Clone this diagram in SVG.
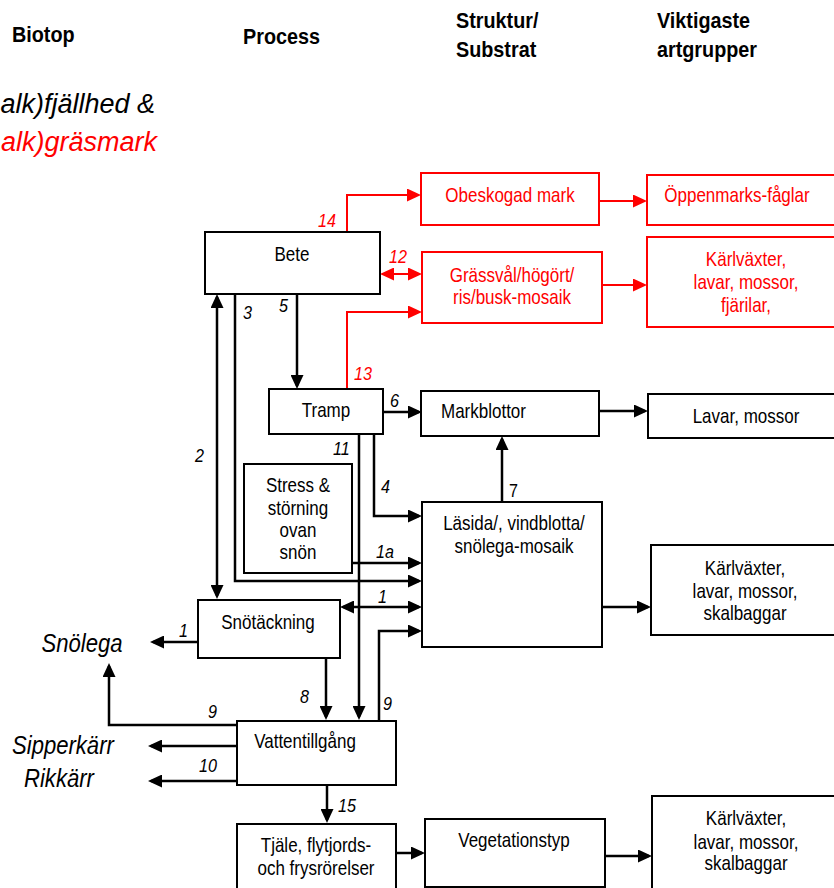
<svg xmlns="http://www.w3.org/2000/svg" width="834" height="888" viewBox="0 0 834 888">
<style>
text{font-family:"Liberation Sans",Arial,sans-serif;fill:#000}
.h{font-size:22px;font-weight:bold}
.big{font-size:27px;font-style:italic}
.side{font-size:26px;font-style:italic}
.t{font-size:20px}
.m{text-anchor:middle}
.n{font-size:19px;font-style:italic}
.u{font-size:19px}
.r{fill:#f00}
.box{fill:#fff;stroke:#000;stroke-width:2}
.rbox{fill:#fff;stroke:#f00;stroke-width:2}
.c{fill:none;stroke:#000;stroke-width:2.5;marker-end:url(#ah)}
.cr{fill:none;stroke:#f00;stroke-width:2;marker-end:url(#ahr)}
.d{marker-start:url(#ah)}
.dr{marker-start:url(#ahr)}
</style>
<defs>
<marker id="ah" viewBox="0 0 14 13" refX="11" refY="6.5" markerWidth="14" markerHeight="13" markerUnits="userSpaceOnUse" orient="auto-start-reverse"><path d="M0,0L14,6.5L0,13z" fill="#000"/></marker>
<marker id="ahr" viewBox="0 0 14 13" refX="11" refY="6.5" markerWidth="14" markerHeight="13" markerUnits="userSpaceOnUse" orient="auto-start-reverse"><path d="M0,0L14,6.5L0,13z" fill="#f00"/></marker>
</defs>
<rect width="834" height="888" fill="#fff"/>
<g id="headers">
<text class="h" transform="translate(12,42) scale(.9,1)">Biotop</text>
<text class="h" transform="translate(243,44) scale(.9,1)">Process</text>
<text class="h" transform="translate(456,28) scale(.9,1)">Struktur/</text>
<text class="h" transform="translate(456,57) scale(.9,1)">Substrat</text>
<text class="h" transform="translate(657,28) scale(.9,1)">Viktigaste</text>
<text class="h" transform="translate(657,57) scale(.9,1)">artgrupper</text>
<text class="big" x="155" y="113" text-anchor="end">alk)fjällhed &amp;</text>
<text class="big r" x="157" y="151" text-anchor="end">alk)gräsmark</text>
<text class="side m" transform="translate(82,652) scale(.85,1)">Snölega</text>
<text class="side" transform="translate(12,754) scale(.85,1)">Sipperkärr</text>
<text class="side" transform="translate(24,787) scale(.85,1)">Rikkärr</text>
</g>
<g id="connectors">
<path class="c" d="M297,294V386"/>
<path class="c d" d="M217,297V596"/>
<path class="c" d="M235,294V581H419"/>
<path class="c" d="M383,412H419"/>
<path class="c" d="M359,434V717"/>
<path class="c" d="M374,434V516H419"/>
<path class="c" d="M502,502V439"/>
<path class="c" d="M599,411H645"/>
<path class="c" d="M352,563H419"/>
<path class="c d" d="M343,607H419"/>
<path class="c" d="M379,721V631H419"/>
<path class="c" d="M602,607H648"/>
<path class="c" d="M198,642H153"/>
<path class="c" d="M326,658V717"/>
<path class="c" d="M237,725H109V666"/>
<path class="c" d="M237,746H151"/>
<path class="c" d="M237,781H151"/>
<path class="c" d="M327,785V820"/>
<path class="c" d="M396,853H422"/>
<path class="c" d="M605,856H649"/>
<path class="cr" d="M347,232V195H418"/>
<path class="cr dr" d="M383,274H419"/>
<path class="cr" d="M347,389V312H419"/>
<path class="cr" d="M599,201H644"/>
<path class="cr" d="M602,285H644"/>
<text class="n r" transform="translate(318,227) scale(.85,1)">14</text>
<text class="n r" transform="translate(389,263) scale(.85,1)">12</text>
<text class="n r" transform="translate(354,380) scale(.85,1)">13</text>
<text class="n" transform="translate(243,319) scale(.85,1)">3</text>
<text class="n" transform="translate(279,312) scale(.85,1)">5</text>
<text class="n" transform="translate(195,462) scale(.85,1)">2</text>
<text class="n" transform="translate(333,455) scale(.85,1)">11</text>
<text class="n" transform="translate(381,493) scale(.85,1)">4</text>
<text class="n" transform="translate(390,407) scale(.85,1)">6</text>
<text class="u" transform="translate(509,497) scale(.85,1)">7</text>
<text class="n" transform="translate(376,558) scale(.85,1)">1a</text>
<text class="n" transform="translate(378,603) scale(.85,1)">1</text>
<text class="n" transform="translate(179,637) scale(.85,1)">1</text>
<text class="n" transform="translate(300,703) scale(.85,1)">8</text>
<text class="n" transform="translate(383,710) scale(.85,1)">9</text>
<text class="n" transform="translate(208,718) scale(.85,1)">9</text>
<text class="n" transform="translate(199,772) scale(.85,1)">10</text>
<text class="n" transform="translate(338,812) scale(.85,1)">15</text>
</g>
<g id="bete"><rect class="box" x="205" y="232" width="175" height="62"/><text class="t m" transform="translate(292,261) scale(.85,1)">Bete</text></g>
<g id="obeskogad"><rect class="rbox" x="421" y="173" width="178" height="52"/><text class="t m r" transform="translate(510,202) scale(.85,1)">Obeskogad mark</text></g>
<g id="oppenmark"><rect class="rbox" x="647" y="175" width="200" height="50"/><text class="t m r" transform="translate(737,202) scale(.85,1)">Öppenmarks-fåglar</text></g>
<g id="grassval"><rect class="rbox" x="422" y="252" width="180" height="71"/><text class="t m r" transform="translate(512,282) scale(.85,1)">Grässvål/högört/</text><text class="t m r" transform="translate(512,304) scale(.85,1)">ris/busk-mosaik</text></g>
<g id="karl-red"><rect class="rbox" x="647" y="237" width="200" height="90"/><text class="t m r" transform="translate(746,266) scale(.85,1)">Kärlväxter,</text><text class="t m r" transform="translate(746,289) scale(.85,1)">lavar, mossor,</text><text class="t m r" transform="translate(746,312) scale(.85,1)">fjärilar,</text></g>
<g id="tramp"><rect class="box" x="269" y="389" width="114" height="45"/><text class="t m" transform="translate(326,417) scale(.85,1)">Tramp</text></g>
<g id="markblottor"><rect class="box" x="421" y="391" width="178" height="45"/><text class="t" transform="translate(441,418) scale(.85,1)">Markblottor</text></g>
<g id="lavar"><rect class="box" x="648" y="394" width="200" height="44"/><text class="t m" transform="translate(746,423) scale(.85,1)">Lavar, mossor</text></g>
<g id="stress"><rect class="box" x="244" y="464" width="108" height="109"/><text class="t m" transform="translate(298,492) scale(.85,1)">Stress &amp;</text><text class="t m" transform="translate(298,515) scale(.85,1)">störning</text><text class="t m" transform="translate(298,537) scale(.85,1)">ovan</text><text class="t m" transform="translate(298,559) scale(.85,1)">snön</text></g>
<g id="lasida"><rect class="box" x="422" y="502" width="180" height="145"/><text class="t m" transform="translate(514,530) scale(.85,1)">Läsida/, vindblotta/</text><text class="t m" transform="translate(514,553) scale(.85,1)">snölega-mosaik</text></g>
<g id="karl-mid"><rect class="box" x="651" y="545" width="200" height="90"/><text class="t m" transform="translate(745,575) scale(.85,1)">Kärlväxter,</text><text class="t m" transform="translate(745,598) scale(.85,1)">lavar, mossor,</text><text class="t m" transform="translate(745,620) scale(.85,1)">skalbaggar</text></g>
<g id="snotackning"><rect class="box" x="198" y="600" width="142" height="58"/><text class="t m" transform="translate(268,629) scale(.85,1)">Snötäckning</text></g>
<g id="vatten"><rect class="box" x="237" y="721" width="159" height="64"/><text class="t m" transform="translate(305,748) scale(.85,1)">Vattentillgång</text></g>
<g id="tjale"><rect class="box" x="237" y="824" width="159" height="70"/><text class="t m" transform="translate(316,852) scale(.85,1)">Tjäle, flytjords-</text><text class="t m" transform="translate(316,875) scale(.85,1)">och frysrörelser</text></g>
<g id="vegetation"><rect class="box" x="425" y="819" width="180" height="68"/><text class="t m" transform="translate(514,847) scale(.85,1)">Vegetationstyp</text></g>
<g id="karl-bot"><rect class="box" x="652" y="796" width="200" height="100"/><text class="t m" transform="translate(746,825) scale(.85,1)">Kärlväxter,</text><text class="t m" transform="translate(746,849) scale(.85,1)">lavar, mossor,</text><text class="t m" transform="translate(746,870) scale(.85,1)">skalbaggar</text></g>
</svg>
